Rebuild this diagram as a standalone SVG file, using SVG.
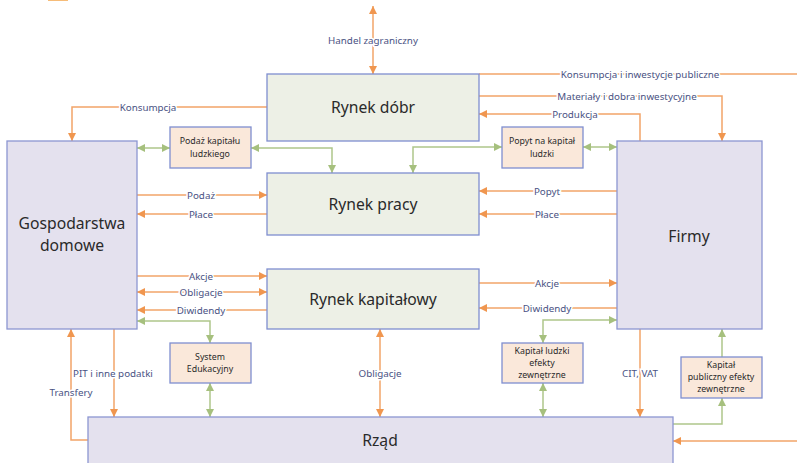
<svg xmlns="http://www.w3.org/2000/svg" width="797" height="463" viewBox="0 0 797 463">
<style>
.mkt{fill:#EDF0E6;stroke:#7F8ED0;stroke-width:1.3}
.sec{fill:#E4E1EE;stroke:#8C96D2;stroke-width:1.3}
.sub{fill:#FAE8DA;stroke:#7F8ED0;stroke-width:1.3}
.t{font-family:"Noto Sans","Open Sans",sans-serif;fill:#2A2A2A;text-anchor:middle;dominant-baseline:central}
.big{font-size:15.7px}
.small{font-size:8.8px}
.lbl{font-family:"Noto Sans","Open Sans",sans-serif;font-size:9.8px;fill:#4A5283;text-anchor:middle;dominant-baseline:central;stroke:#fff;stroke-width:3;paint-order:stroke}
.o{fill:none;stroke:#F2A468;stroke-width:1.5}
.g{fill:none;stroke:#AEC68A;stroke-width:1.5}
.o1{marker-end:url(#ao)}
.o2{marker-end:url(#ao);marker-start:url(#ao)}
.g1{marker-end:url(#ag)}
.g2{marker-end:url(#ag);marker-start:url(#ag)}
</style>
<defs>
<marker id="ao" viewBox="0 0 10 10" refX="10" refY="5" markerWidth="9" markerHeight="8" markerUnits="userSpaceOnUse" orient="auto-start-reverse"><path d="M0,0 L10,5 L0,10 z" fill="#F0964F"/></marker>
<marker id="ag" viewBox="0 0 10 10" refX="10" refY="5" markerWidth="9" markerHeight="8" markerUnits="userSpaceOnUse" orient="auto-start-reverse"><path d="M0,0 L10,5 L0,10 z" fill="#A6C07E"/></marker>
</defs>
<rect width="797" height="463" fill="#fff"/>
<rect x="48" y="0" width="20" height="1" fill="#F2A040" opacity="0.7"/>

<g id="connectors">
<path class="o o2" d="M373,6 V74"/>
<path class="o o1" d="M267,107 H72 V141"/>
<path class="o" d="M479,74 H797"/>
<path class="o o1" d="M479,96 H722 V141"/>
<path class="o o1" d="M640,141 V114 H479"/>
<path class="o o1" d="M137,195 H267"/>
<path class="o o1" d="M267,214 H137"/>
<path class="o o1" d="M617,191 H479"/>
<path class="o o1" d="M617,214 H479"/>
<path class="o o1" d="M137,276 H267"/>
<path class="o o2" d="M137,292 H267"/>
<path class="o o1" d="M267,310 H137"/>
<path class="o o1" d="M479,283 H617"/>
<path class="o o1" d="M617,308 H479"/>
<path class="o o1" d="M114,329 V417"/>
<path class="o o1" d="M88,440 H71 V329"/>
<path class="o o2" d="M380,329 V417"/>
<path class="o o1" d="M640,329 V417"/>
<path class="o o1" d="M797,441 H673"/>

<path class="g g2" d="M137,148 H170"/>
<path class="g g2" d="M251,148 H332 V173"/>
<path class="g g2" d="M413,173 V147 H502"/>
<path class="g g2" d="M583,147 H617"/>
<path class="g g2" d="M137,321 H210 V343"/>
<path class="g g2" d="M210,383 V417"/>
<path class="g g2" d="M617,320 H543 V343"/>
<path class="g g2" d="M543,383 V417"/>
<path class="g g1" d="M673,424 H722 V398"/>
<path class="g g1" d="M722,357 V329"/>

<text class="lbl" x="373" y="40">Handel zagraniczny</text>
<text class="lbl" x="148" y="107">Konsumpcja</text>
<text class="lbl" x="640" y="74">Konsumpcja i inwestycje publiczne</text>
<text class="lbl" x="627" y="96">Materiały i dobra inwestycyjne</text>
<text class="lbl" x="575" y="114">Produkcja</text>
<text class="lbl" x="201" y="195">Podaż</text>
<text class="lbl" x="201" y="214">Płace</text>
<text class="lbl" x="547" y="191">Popyt</text>
<text class="lbl" x="547" y="214">Płace</text>
<text class="lbl" x="201" y="276">Akcje</text>
<text class="lbl" x="201" y="292">Obligacje</text>
<text class="lbl" x="201" y="310">Diwidendy</text>
<text class="lbl" x="547" y="283">Akcje</text>
<text class="lbl" x="547" y="308">Diwidendy</text>
<text class="lbl" x="113" y="373">PIT i inne podatki</text>
<text class="lbl" x="71" y="392">Transfery</text>
<text class="lbl" x="380" y="373">Obligacje</text>
<text class="lbl" x="640" y="373">CIT, VAT</text>
</g>

<g id="rynek-dobr"><rect class="mkt" x="267" y="74" width="212" height="67"/><text class="t big" x="373" y="107">Rynek dóbr</text></g>
<g id="rynek-pracy"><rect class="mkt" x="267" y="173" width="212" height="62"/><text class="t big" x="373" y="204">Rynek pracy</text></g>
<g id="rynek-kapitalowy"><rect class="mkt" x="267" y="269" width="212" height="60"/><text class="t big" x="373" y="299">Rynek kapitałowy</text></g>
<g id="gospodarstwa-domowe"><rect class="sec" x="7" y="141" width="130" height="188"/><text class="t big" x="72" y="223">Gospodarstwa</text><text class="t big" x="72" y="245">domowe</text></g>
<g id="firmy"><rect class="sec" x="617" y="141" width="145" height="188"/><text class="t big" x="689" y="236">Firmy</text></g>
<g id="rzad"><rect class="sec" x="88" y="417" width="585" height="60"/><text class="t big" x="380" y="440">Rząd</text></g>
<g id="podaz-kapitalu"><rect class="sub" x="170" y="127" width="81" height="41"/><text class="t small" x="210" y="141">Podaż kapitału</text><text class="t small" x="210" y="154">ludzkiego</text></g>
<g id="popyt-na-kapital"><rect class="sub" x="502" y="127" width="81" height="41"/><text class="t small" x="542" y="141">Popyt na kapitał</text><text class="t small" x="542" y="154">ludzki</text></g>
<g id="system-edukacyjny"><rect class="sub" x="170" y="343" width="81" height="40"/><text class="t small" x="210" y="357">System</text><text class="t small" x="210" y="369">Edukacyjny</text></g>
<g id="kapital-ludzki"><rect class="sub" x="502" y="343" width="81" height="40"/><text class="t small" x="542" y="351">Kapitał ludzki</text><text class="t small" x="542" y="363">efekty</text><text class="t small" x="542" y="375">zewnętrzne</text></g>
<g id="kapital-publiczny"><rect class="sub" x="681" y="357" width="81" height="41"/><text class="t small" x="721" y="365">Kapitał</text><text class="t small" x="721" y="377">publiczny efekty</text><text class="t small" x="721" y="389">zewnętrzne</text></g>
</svg>
